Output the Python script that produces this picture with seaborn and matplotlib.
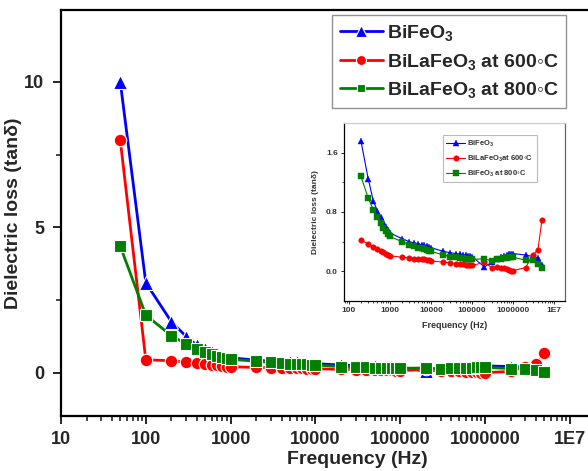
import numpy as np
import pandas as pd
import matplotlib
matplotlib.use("Agg")
import matplotlib.pyplot as plt
from matplotlib.ticker import FixedLocator, LogLocator, NullFormatter, FixedFormatter
import seaborn as sns

# ---------------- data ----------------
freq = [50, 100, 200, 300, 400, 500, 600, 700, 800, 900,
        1e3, 2e3, 3e3, 4e3, 5e3, 6e3, 7e3, 8e3, 9e3,
        1e4, 2e4, 3e4, 4e4, 5e4, 6e4, 7e4, 8e4, 9e4,
        1e5, 2e5, 3e5, 4e5, 5e5, 6e5, 7e5, 8e5, 9e5,
        1e6, 2e6, 3e6, 4e6, 5e6]

bifeo3 = [10.0, 3.10, 1.76, 1.25, 0.95, 0.82, 0.73, 0.66, 0.60, 0.56,
          0.52, 0.44, 0.40, 0.38, 0.37, 0.36, 0.35, 0.34, 0.33,
          0.32, 0.27, 0.25, 0.24, 0.23, 0.22, 0.22, 0.21, 0.21,
          0.20, 0.06, 0.12, 0.16, 0.19, 0.21, 0.22, 0.23, 0.24,
          0.24, 0.22, 0.20, 0.18, 0.08]

bila600 = [8.0, 0.45, 0.42, 0.37, 0.33, 0.30, 0.28, 0.26, 0.24, 0.22,
           0.21, 0.19, 0.18, 0.17, 0.17, 0.16, 0.16, 0.15, 0.15,
           0.14, 0.125, 0.115, 0.105, 0.10, 0.095, 0.09, 0.085, 0.08,
           0.08, 0.12, 0.05, 0.06, 0.05, 0.04, 0.03, 0.02, 0.01,
           0.01, 0.05, 0.22, 0.29, 0.69]

bila800 = [4.35, 1.99, 1.28, 0.99, 0.83, 0.73, 0.65, 0.59, 0.54, 0.50,
           0.47, 0.40, 0.36, 0.34, 0.32, 0.31, 0.30, 0.29, 0.28,
           0.27, 0.22, 0.20, 0.19, 0.18, 0.18, 0.17, 0.17, 0.16,
           0.16, 0.17, 0.14, 0.16, 0.17, 0.18, 0.18, 0.19, 0.19,
           0.19, 0.15, 0.15, 0.10, 0.04]

series_labels = ["BiFeO$_3$", "BiLaFeO$_3$ at 600\u25e6C", "BiLaFeO$_3$ at 800\u25e6C"]
inset_labels = ["BiFeO$_3$", "BiLaFeO$_3$at 600\u25e6C", "BiFeO$_3$ at 800\u25e6C"]

xtick_vals = [10, 100, 1000, 10000, 100000, 1000000, 10000000]
xtick_labels = ["10", "100", "1000", "10000", "100000", "1000000", "1E7"]
ytick_vals = [0, 5, 10]
ytick_labels = ["0", "5", "10"]
inset_xtick_vals = [100, 1000, 10000, 100000, 1000000, 10000000]
inset_xtick_labels = ["100", "1000", "10000", "100000", "1000000", "1E7"]
inset_ytick_vals = [0.0, 0.8, 1.6]
inset_ytick_labels = ["0.0", "0.8", "1.6"]

# ---------------- style ----------------
sns.set_style("ticks")
plt.rcParams["font.family"] = ["Liberation Sans", "DejaVu Sans"]
plt.rcParams["font.weight"] = "bold"
plt.rcParams["mathtext.fontset"] = "custom"
plt.rcParams["mathtext.rm"] = "Liberation Sans:bold"
plt.rcParams["mathtext.bf"] = "Liberation Sans:bold"
plt.rcParams["mathtext.it"] = "Liberation Sans:bold"
plt.rcParams["mathtext.default"] = "bf"

colors = ["#0000FF", "#FF0000", "#008000"]
markers = ["^", "o", "s"]
msizes = [10, 9, 8]

df = pd.DataFrame({"freq": freq, "b": bifeo3, "r": bila600, "g": bila800})
cols = ["b", "r", "g"]

fig = plt.figure(figsize=(5.88, 4.71), dpi=100)
W, H = 588.0, 471.0
ax = fig.add_axes([61 / W, 55 / H, 593.6 / W, 406 / H])

for c, col, m, ms, lab in zip(cols, colors, markers, msizes, series_labels):
    sns.lineplot(data=df, x="freq", y=c, ax=ax, color=col, marker=m,
                 markersize=ms, markeredgecolor="white", markeredgewidth=0.8,
                 linewidth=2.0, estimator=None, errorbar=None, label=lab,
                 legend=False)

ax.set_xscale("log")
ax.set_xlim(10, 1e8)
ax.set_ylim(-1.48, 12.47)
ax.xaxis.set_major_locator(FixedLocator(xtick_vals))
ax.xaxis.set_major_formatter(FixedFormatter(xtick_labels))
ax.xaxis.set_minor_locator(LogLocator(base=10, subs=np.arange(2, 10)))
ax.xaxis.set_minor_formatter(NullFormatter())
ax.yaxis.set_major_locator(FixedLocator(ytick_vals))
ax.yaxis.set_major_formatter(FixedFormatter(ytick_labels))
ax.yaxis.set_minor_locator(FixedLocator([2.5, 7.5]))
for s in ax.spines.values():
    s.set_linewidth(1.6)
    s.set_color("black")
ax.tick_params(which="major", direction="out", length=6, width=1.4,
               labelsize=13, pad=5)
ax.tick_params(which="minor", direction="out", length=3.5, width=1.2)
ax.tick_params(axis="y", which="major", pad=6)
for t in ax.get_xticklabels() + ax.get_yticklabels():
    t.set_fontweight("bold")
ax.set_xlabel("Frequency (Hz)", fontsize=14, fontweight="bold", labelpad=2)
ax.set_ylabel("Dielectric loss (tan\u03b4)", fontsize=14, fontweight="bold")
ax.yaxis.set_label_coords((22 - 61) / 593.6, 0.5)

handles, labels = ax.get_legend_handles_labels()
leg = ax.legend(handles, labels, loc="upper right",
                bbox_to_anchor=(566 / W, 1 - 15 / H), bbox_transform=fig.transFigure,
                borderaxespad=0, fancybox=False, edgecolor="#777777",
                prop={"weight": "bold", "size": 14}, handlelength=2.2,
                handletextpad=0.2, labelspacing=0.45, markerscale=0.8,
                borderpad=0.4)
leg.get_frame().set_linewidth(1.0)

# ---------------- inset ----------------
axin = fig.add_axes([344 / W, (H - 301) / H, 221 / W, 178 / H])
dfi = df.iloc[2:]
for c, col, m, lab in zip(cols, colors, markers, inset_labels):
    sns.lineplot(data=dfi, x="freq", y=c, ax=axin, color=col, marker=m,
                 markersize=4, markeredgecolor=col, markeredgewidth=0.3,
                 linewidth=0.8, estimator=None, errorbar=None, label=lab,
                 legend=False)
axin.set_xscale("log")
axin.set_xlim(10 ** 1.89, 10 ** 7.26)
axin.set_ylim(-0.4, 2.0)
axin.xaxis.set_major_locator(FixedLocator(inset_xtick_vals))
axin.xaxis.set_major_formatter(FixedFormatter(inset_xtick_labels))
axin.xaxis.set_minor_locator(LogLocator(base=10, subs=np.arange(2, 10)))
axin.xaxis.set_minor_formatter(NullFormatter())
axin.yaxis.set_major_locator(FixedLocator(inset_ytick_vals))
axin.yaxis.set_major_formatter(FixedFormatter(inset_ytick_labels))
axin.yaxis.set_minor_locator(FixedLocator([0.4, 1.2]))
axin.spines["left"].set_color("black")
axin.spines["bottom"].set_color("black")
axin.spines["top"].set_color("#cccccc")
axin.spines["right"].set_color("#666666")
for s in axin.spines.values():
    s.set_linewidth(0.9)
axin.tick_params(which="major", direction="out", length=2.5, width=0.7,
                 labelsize=6, pad=2, labelcolor="#333333")
axin.tick_params(which="minor", direction="out", length=1.5, width=0.6)
for t in axin.get_xticklabels() + axin.get_yticklabels():
    t.set_fontweight("bold")
axin.set_xlabel("Frequency (Hz)", fontsize=6.5, fontweight="bold", color="#333333", labelpad=5)
axin.set_ylabel("Dielectric loss (tan\u03b4)", fontsize=6, fontweight="bold", color="#333333", labelpad=5)
h2, l2 = axin.get_legend_handles_labels()
leg2 = axin.legend(h2, l2, loc="upper right",
                   bbox_to_anchor=(537 / W, 1 - 135 / H), bbox_transform=fig.transFigure,
                   borderaxespad=0, fancybox=False, edgecolor="#aaaaaa",
                   prop={"weight": "bold", "size": 5.5}, handlelength=2.4,
                   handletextpad=0.3, labelspacing=0.6, borderpad=0.5)
leg2.get_frame().set_linewidth(0.8)
for t in leg2.get_texts():
    t.set_color("#333333")

fig.savefig("out.png", dpi=100)
